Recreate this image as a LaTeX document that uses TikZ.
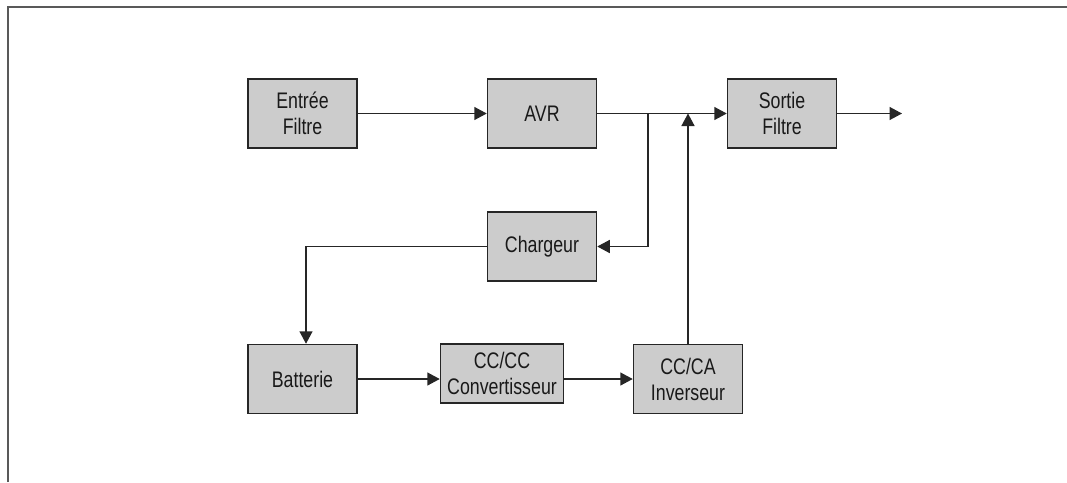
\documentclass[tikz,border=0pt]{standalone}
\usepackage{fontspec}
\setmainfont{Liberation Sans}[FakeStretch=0.79]
\usetikzlibrary{arrows.meta}
\begin{document}
\begin{tikzpicture}[x=1pt,y=-1pt,
  box/.style={draw=black!85, line width=1.5pt, fill=black!20, minimum width=109pt, minimum height=69pt, inner sep=0pt, align=center, font=\fontsize{22.5}{26}\selectfont, text=black!90},
  conn/.style={line width=1.5pt, draw=black!85, -{Triangle[length=12.5pt,width=13pt]}},
  frame/.style={line width=2pt, draw=black!65}]
\useasboundingbox (0,0) rectangle (1067,482);
\draw[frame] (7.5,482) -- (7.5,7) -- (1067,7);

\node[box] (ef) at (302.5,113.5) {Entrée\\Filtre};
\node[box] (avr) at (542,113.5) {AVR};
\node[box] (sf) at (782,113.5) {Sortie\\Filtre};
\node[box] (ch) at (542,246.5) {Chargeur};
\node[box] (bat) at (302.5,379) {Batterie};
\node[box, minimum width=123pt, minimum height=59pt] (cc) at (502,373.5) {CC/CC\\Convertisseur};
\node[box] (ca) at (688,379) {CC/CA\\Inverseur};

\coordinate (br) at (648,113.5);
\coordinate (out) at (902,113.5);

\draw[conn] (ef) -- (avr);
\draw[conn] (avr) -- (sf);
\draw[conn] (br) |- (ch.east);
\draw[conn] (ca.north) -- (ca.north |- sf.west);
\draw[conn] (sf) -- (out);
\draw[conn] (ch.west) -| ([xshift=3.5pt]bat.north);
\draw[conn] (bat.east) -- (bat.east -| cc.west);
\draw[conn] (cc.east |- ca.west) -- (ca.west);
\end{tikzpicture}
\end{document}
